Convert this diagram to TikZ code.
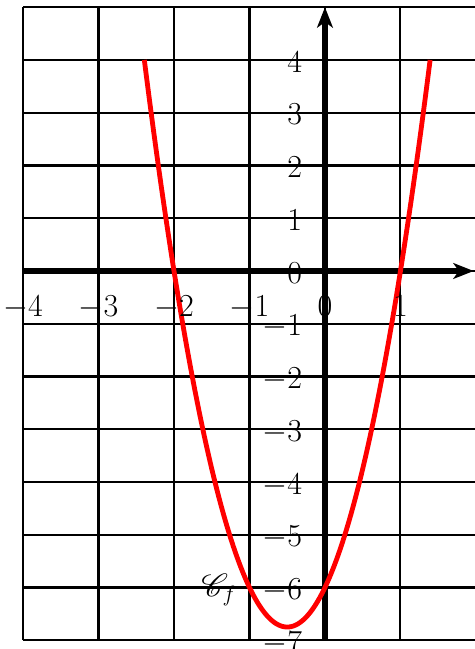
\documentclass[tikz,border=0pt]{standalone}
\usepackage{mathrsfs}
\usetikzlibrary{arrows.meta}
\begin{document}
\begin{tikzpicture}[xscale=1.431, font=\LARGE, line join=round, >={Stealth[length=11pt,width=8.5pt,inset=3pt]}]
	\useasboundingbox (-4.305,-7.166) rectangle (1.987,5.137);
	\path (-4,0) coordinate (Xa)
	(1.97,0) coordinate (Xb)
	(0,-7) coordinate (Ya)
	(0,5) coordinate (Yb);
	\draw[line width=1.1pt] (-4,-7) grid (2,5);
	\draw[->, line width=3.2pt] (Xa) -- (Xb);
	\draw[->, line width=3.2pt] (Ya) -- (Yb);
	\draw[red, line width=2.6pt, domain=-2.393:1.393, samples=120] plot (\x, {3*\x*\x+3*\x-6});
	\foreach \i in {-4,...,1}
	\node[anchor=base] (lx\i) at (\i,-0.87) {$\i$};
	\foreach \j in {-7,...,4}
	\node[anchor=base east, inner sep=0pt] (ly\j) at (-0.3,\j-0.23) {$\j$};
	\node (Cf) at (-1.404,-6.04) {$\mathscr{C}_f$};
\end{tikzpicture}
\end{document}
